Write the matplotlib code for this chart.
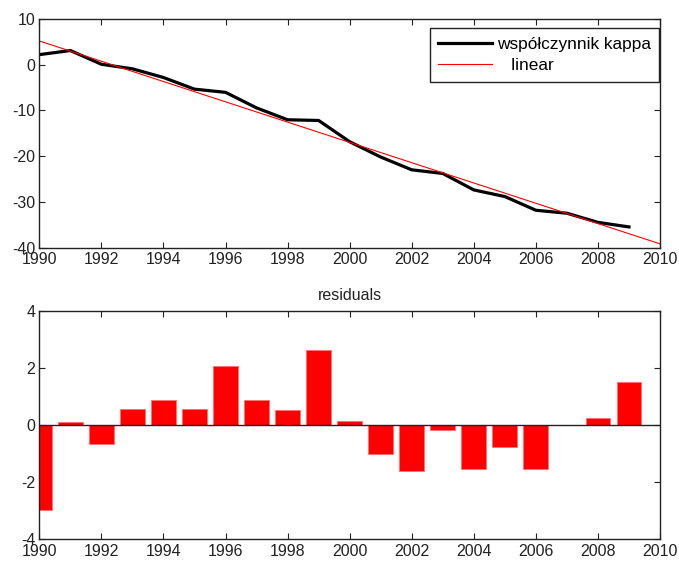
import matplotlib
matplotlib.use("Agg")
import matplotlib.pyplot as plt
import numpy as np

plt.rcParams['font.family'] = ['Liberation Sans', 'DejaVu Sans']
plt.rcParams['axes.unicode_minus'] = False

years = np.arange(1990, 2010)
kappa = [2.2, 3.1, 0.1, -0.9, -2.8, -5.35, -6.05, -9.45, -12.05, -12.2,
         -16.85, -20.2, -23.0, -23.8, -27.4, -28.85, -31.85, -32.5, -34.5, -35.5]
lin_years = [1990, 2010]
lin_vals = [5.2, -39.2]
residuals = [-2.99, 0.10, -0.67, 0.57, 0.89, 0.57, 2.08, 0.89, 0.51, 2.62,
             0.14, -1.00, -1.60, -0.17, -1.55, -0.77, -1.55, 0.0, 0.25, 1.52]

top_yticks = [10, 0, -10, -20, -30, -40]
bot_yticks = [4, 2, 0, -2, -4]
xticks = np.arange(1990, 2011, 2)

W, H = 679, 561
fig = plt.figure(figsize=(W / 100, H / 100), dpi=100)
ax1 = fig.add_axes([39.3 / W, 1 - 247.5 / H, 620.7 / W, 228.5 / H])
ax2 = fig.add_axes([39.3 / W, 1 - 539.0 / H, 620.7 / W, 228.0 / H])


def matlab_style(ax):
    ax.tick_params(direction='in', length=4, width=0.8, top=True, right=True,
                   labelsize=11.5, pad=3, colors='#222222')
    ax.tick_params(axis='x', pad=3.5)
    for s in ax.spines.values():
        s.set_linewidth(1.0)
        s.set_color('#222222')


ax1.plot(years, kappa, color='black', lw=2.3, label='współczynnik kappa')
ax1.plot(lin_years, lin_vals, color='red', lw=0.8, label='   linear')
ax1.set_xlim(1990, 2010)
ax1.set_ylim(-40, 10)
ax1.set_xticks(xticks)
ax1.set_yticks(top_yticks)
matlab_style(ax1)
leg = ax1.legend(loc='upper right', bbox_to_anchor=(0.999, 0.959),
                 borderaxespad=0, fancybox=False, framealpha=1,
                 edgecolor='#222222', fontsize=12.4, handlelength=3.1,
                 handletextpad=0.3, borderpad=0.5, labelspacing=0.35)
leg.get_frame().set_linewidth(1.0)

ax2.bar(years, residuals, width=0.8, color='#ff0000', edgecolor='#ff7070',
        linewidth=0.6, zorder=2)
ax2.axhline(0, color='#222222', lw=1.0, zorder=3)
ax2.set_xlim(1990, 2010)
ax2.set_ylim(-4, 4)
ax2.set_xticks(xticks)
ax2.set_yticks(bot_yticks)
matlab_style(ax2)
ax2.set_title('residuals', fontsize=11.5, pad=8, color='#222222')

fig.savefig('out.png', dpi=100)
